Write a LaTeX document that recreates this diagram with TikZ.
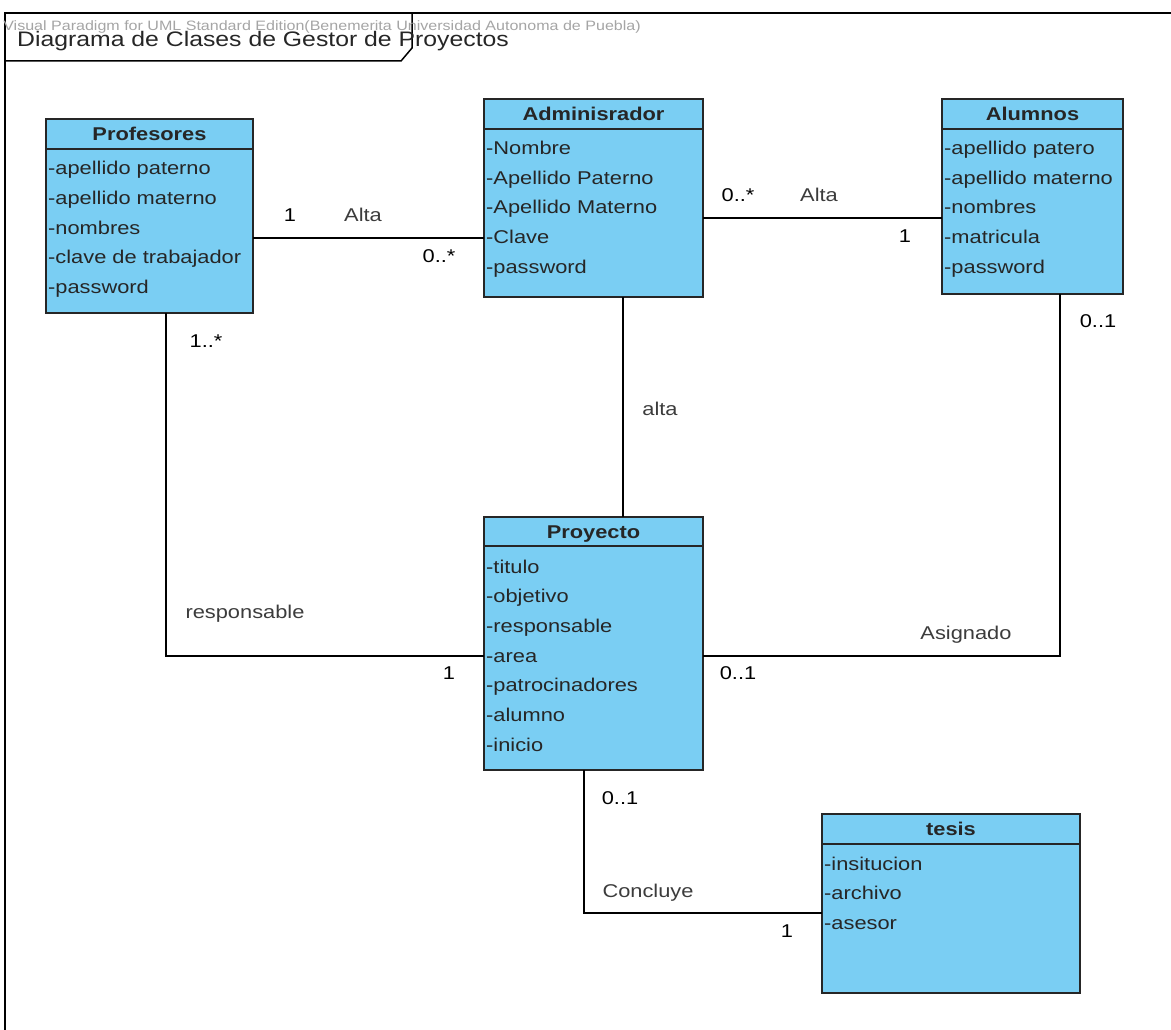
\documentclass[tikz,border=0pt]{standalone}
\usepackage{fontspec}
\setmainfont{Liberation Sans}[FakeStretch=1.18]
\usetikzlibrary{calc}

\definecolor{classfill}{RGB}{122,206,243}
\definecolor{assoctext}{RGB}{60,60,60}
\definecolor{wmgray}{RGB}{165,165,165}

\tikzset{
  classbox/.style={draw=black!85, line width=1.5pt, fill=classfill,
    inner sep=0pt, outer sep=0pt, anchor=north west},
  hdr/.style={font=\fontsize{18.5}{20}\selectfont\bfseries, text=black!85,
    inner sep=0pt, anchor=base},
  attr/.style={font=\fontsize{18.5}{20}\selectfont, text=black!85,
    inner sep=0pt, anchor=base west},
  mult/.style={font=\fontsize{18.5}{20}\selectfont, text=black,
    inner sep=0pt, anchor=base},
  assocname/.style={font=\fontsize{18.5}{20}\selectfont, text=assoctext,
    inner sep=0pt, anchor=base},
  link/.style={draw=black, line width=1.4pt},
  sep/.style={draw=black!85, line width=1.5pt},
}

\begin{document}
\begin{tikzpicture}[x=1pt,y=-1pt]
\useasboundingbox (0,0) rectangle (1171,1030);
\fill[white] (0,0) rectangle (1171,1030);

% diagram frame and its name tab
\draw[line width=1.5pt] (1171,13) -- (5,13) -- (5,1030);
\draw[line width=1.5pt] (5,61) -- (401,61) -- (412,48) -- (412,13);
\node[font=\fontsize{13.6}{14}\selectfont, text=wmgray, inner sep=0pt, anchor=base east]
  (wm) at (641,31) {Visual Paradigm for UML Standard Edition(Benemerita Universidad Autonoma de Puebla)};
\node[font=\fontsize{21}{23}\selectfont, text=black!85, inner sep=0pt, anchor=base west]
  (title) at (17,47) {Diagrama de Clases de Gestor de Proyectos};

% Profesores
\node[classbox, minimum width=207pt, minimum height=194pt] (prof) at (46,119) {};
\draw[sep] (46,149) -- (253,149);
\node[hdr] (profname) at (149.5,140.5) {Profesores};
\node[attr] (prof1) at (48,175) {-apellido paterno};
\node[attr] (prof2) at (48,204.5) {-apellido materno};
\node[attr] (prof3) at (48,234) {-nombres};
\node[attr] (prof4) at (48,263.5) {-clave de trabajador};
\node[attr] (prof5) at (48,293) {-password};

% Adminisrador
\node[classbox, minimum width=219pt, minimum height=198pt] (admin) at (484,99) {};
\draw[sep] (484,129) -- (703,129);
\node[hdr] (adminname) at (593.5,120.5) {Adminisrador};
\node[attr] (admin1) at (486,155) {-Nombre};
\node[attr] (admin2) at (486,184.5) {-Apellido Paterno};
\node[attr] (admin3) at (486,214) {-Apellido Materno};
\node[attr] (admin4) at (486,243.5) {-Clave};
\node[attr] (admin5) at (486,273) {-password};

% Alumnos
\node[classbox, minimum width=181pt, minimum height=195pt] (alum) at (942,99) {};
\draw[sep] (942,129) -- (1123,129);
\node[hdr] (alumname) at (1032.5,120.5) {Alumnos};
\node[attr] (alum1) at (944,155) {-apellido patero};
\node[attr] (alum2) at (944,184.5) {-apellido materno};
\node[attr] (alum3) at (944,214) {-nombres};
\node[attr] (alum4) at (944,243.5) {-matricula};
\node[attr] (alum5) at (944,273) {-password};

% Proyecto
\node[classbox, minimum width=219pt, minimum height=253pt] (proj) at (484,517) {};
\draw[sep] (484,546) -- (703,546);
\node[hdr] (projname) at (593.5,538) {Proyecto};
\node[attr] (proj1) at (486,573) {-titulo};
\node[attr] (proj2) at (486,602.7) {-objetivo};
\node[attr] (proj3) at (486,632.4) {-responsable};
\node[attr] (proj4) at (486,662) {-area};
\node[attr] (proj5) at (486,691.8) {-patrocinadores};
\node[attr] (proj6) at (486,721.5) {-alumno};
\node[attr] (proj7) at (486,751) {-inicio};

% tesis
\node[classbox, minimum width=258pt, minimum height=179pt] (tesis) at (822,814) {};
\draw[sep] (822,844) -- (1080,844);
\node[hdr] (tesisname) at (951,835.5) {tesis};
\node[attr] (tesis1) at (824,870) {-insitucion};
\node[attr] (tesis2) at (824,899.5) {-archivo};
\node[attr] (tesis3) at (824,929) {-asesor};

% route guides for the associations
\coordinate (yPA) at (0,238);
\coordinate (yAA) at (0,218);
\coordinate (xAP) at (623,0);
\coordinate (xPr) at (166,0);
\coordinate (xAl) at (1060,0);
\coordinate (yPj) at (0,656);
\coordinate (xPt) at (584,0);
\coordinate (yPt) at (0,913);

% associations
\draw[link] (prof.east |- yPA) -- (admin.west |- yPA);
\draw[link] (admin.east |- yAA) -- (alum.west |- yAA);
\draw[link] (admin.south -| xAP) -- (proj.north -| xAP);
\draw[link] (prof.south -| xPr) |- (proj.west |- yPj);
\draw[link] (alum.south -| xAl) |- (proj.east |- yPj);
\draw[link] (proj.south -| xPt) |- (tesis.west |- yPt);

% association names and multiplicities
\node[mult] (m1) at (290,222) {1};
\node[assocname] (n1) at (363,222) {Alta};
\node[mult] (m2) at (439,262) {0..*};

\node[mult] (m3) at (738,202) {0..*};
\node[assocname] (n2) at (819,202) {Alta};
\node[mult] (m4) at (905,242) {1};

\node[assocname] (n3) at (660,415) {alta};

\node[mult] (m5) at (206,347) {1..*};
\node[assocname] (n4) at (245,618) {responsable};
\node[mult] (m6) at (449,679) {1};

\node[mult] (m7) at (1098,327) {0..1};
\node[assocname] (n5) at (966,639) {Asignado};
\node[mult] (m8) at (738,679) {0..1};

\node[mult] (m9) at (620,804) {0..1};
\node[assocname] (n6) at (648,897) {Concluye};
\node[mult] (m10) at (787,937) {1};
\end{tikzpicture}
\end{document}
